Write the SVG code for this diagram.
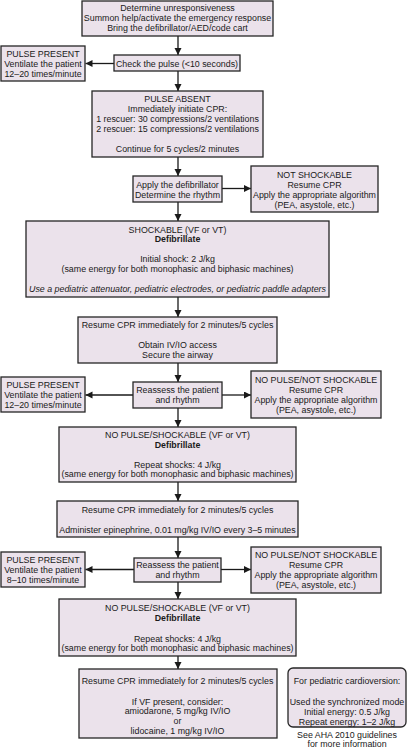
<svg xmlns="http://www.w3.org/2000/svg" width="407" height="750" viewBox="0 0 407 750">
<style>
.b{fill:#ebe2eb;stroke:#262626;stroke-width:1.3}
text{font-family:"Liberation Sans",Arial,sans-serif;font-size:8.85px;fill:#1a1a1a;text-anchor:middle}
.bd{font-weight:bold}
.it{font-style:italic}
.c line{stroke:#1a1a1a;stroke-width:1.3;marker-end:url(#ah)}
</style>
<defs>
<marker id="ah" markerUnits="userSpaceOnUse" markerWidth="8" markerHeight="8" refX="7" refY="3.5" orient="auto">
<path d="M0,0 L7,3.5 L0,7 z" fill="#1a1a1a"/>
</marker>
</defs>
<rect width="407" height="750" fill="#fff"/>
<g class="c" id="connectors">
<line x1="178" y1="36" x2="178" y2="55"/>
<line x1="114" y1="63.5" x2="85.5" y2="63.5"/>
<line x1="178" y1="71" x2="178" y2="91"/>
<line x1="178" y1="157" x2="178" y2="176"/>
<line x1="222" y1="188.5" x2="251" y2="188.5"/>
<line x1="178" y1="202" x2="178" y2="221"/>
<line x1="178" y1="297" x2="178" y2="317"/>
<line x1="178" y1="363" x2="178" y2="382"/>
<line x1="133" y1="395" x2="85.5" y2="395"/>
<line x1="222" y1="395" x2="251" y2="395"/>
<line x1="178" y1="408" x2="178" y2="427"/>
<line x1="178" y1="482" x2="178" y2="501"/>
<line x1="178" y1="537" x2="178" y2="558"/>
<line x1="134" y1="569.5" x2="85.5" y2="569.5"/>
<line x1="221" y1="569.5" x2="251" y2="569.5"/>
<line x1="178" y1="582" x2="178" y2="599"/>
<line x1="178" y1="656" x2="178" y2="669"/>
</g>
<g id="n1"><rect class="b" x="82" y="1" width="191" height="35"/>
<text x="177.5" y="10.5">Determine unresponsiveness</text>
<text x="177.5" y="21">Summon help/activate the emergency response</text>
<text x="177.5" y="31">Bring the defibrillator/AED/code cart</text></g>
<g id="n2"><rect class="b" x="114" y="55" width="126" height="16"/>
<text x="177" y="66.5">Check the pulse (&lt;10 seconds)</text></g>
<g id="n3"><rect class="b" x="1" y="46" width="84" height="35"/>
<text x="43" y="56.5">PULSE PRESENT</text>
<text x="43" y="66.5">Ventilate the patient</text>
<text x="43" y="76.5">12–20 times/minute</text></g>
<g id="n4"><rect class="b" x="92" y="91" width="171" height="66"/>
<text x="177.5" y="102">PULSE ABSENT</text>
<text x="177.5" y="112">Immediately initiate CPR:</text>
<text x="177.5" y="122">1 rescuer: 30 compressions/2 ventilations</text>
<text x="177.5" y="132">2 rescuer: 15 compressions/2 ventilations</text>
<text x="177.5" y="152">Continue for 5 cycles/2 minutes</text></g>
<g id="n5"><rect class="b" x="133" y="176" width="89" height="26"/>
<text x="177.5" y="187.5">Apply the defibrillator</text>
<text x="177.5" y="197.8">Determine the rhythm</text></g>
<g id="n6"><rect class="b" x="251" y="166" width="127" height="46"/>
<text x="314.5" y="177.5">NOT SHOCKABLE</text>
<text x="314.5" y="187.5">Resume CPR</text>
<text x="314.5" y="197.5">Apply the appropriate algorithm</text>
<text x="314.5" y="207.5">(PEA, asystole, etc.)</text></g>
<g id="n7"><rect class="b" x="26" y="221" width="303" height="76"/>
<text x="177.5" y="232.5">SHOCKABLE (VF or VT)</text>
<text class="bd" x="177.5" y="242.3">Defibrillate</text>
<text x="177.5" y="262">Initial shock: 2 J/kg</text>
<text x="177.5" y="272">(same energy for both monophasic and biphasic machines)</text>
<text class="it" x="177.5" y="292">Use a pediatric attenuator, pediatric electrodes, or pediatric paddle adapters</text></g>
<g id="n8"><rect class="b" x="78" y="317" width="199" height="46"/>
<text x="177.5" y="328">Resume CPR immediately for 2 minutes/5 cycles</text>
<text x="177.5" y="348">Obtain IV/IO access</text>
<text x="177.5" y="358">Secure the airway</text></g>
<g id="n9"><rect class="b" x="133" y="382" width="89" height="26"/>
<text x="177.5" y="393">Reassess the patient</text>
<text x="177.5" y="403">and rhythm</text></g>
<g id="n10"><rect class="b" x="1" y="377" width="84" height="35"/>
<text x="43" y="388">PULSE PRESENT</text>
<text x="43" y="398">Ventilate the patient</text>
<text x="43" y="408">12–20 times/minute</text></g>
<g id="n11"><rect class="b" x="251" y="371" width="130" height="47"/>
<text x="316" y="383">NO PULSE/NOT SHOCKABLE</text>
<text x="316" y="393">Resume CPR</text>
<text x="316" y="403">Apply the appropriate algorithm</text>
<text x="316" y="413">(PEA, asystole, etc.)</text></g>
<g id="n12"><rect class="b" x="59" y="427" width="237" height="55"/>
<text x="177.5" y="438">NO PULSE/SHOCKABLE (VF or VT)</text>
<text class="bd" x="177.5" y="448">Defibrillate</text>
<text x="177.5" y="467.5">Repeat shocks: 4 J/kg</text>
<text x="177.5" y="477">(same energy for both monophasic and biphasic machines)</text></g>
<g id="n13"><rect class="b" x="57" y="501" width="241" height="36"/>
<text x="177.5" y="512.5">Resume CPR immediately for 2 minutes/5 cycles</text>
<text x="177.5" y="532.5">Administer epinephrine, 0.01 mg/kg IV/IO every 3–5 minutes</text></g>
<g id="n14"><rect class="b" x="134" y="558" width="87" height="24"/>
<text x="177.5" y="567.5">Reassess the patient</text>
<text x="177.5" y="577.5">and rhythm</text></g>
<g id="n15"><rect class="b" x="1" y="552" width="84" height="35"/>
<text x="43" y="563">PULSE PRESENT</text>
<text x="43" y="573">Ventilate the patient</text>
<text x="43" y="583">8–10 times/minute</text></g>
<g id="n16"><rect class="b" x="251" y="547" width="130" height="46"/>
<text x="316" y="557.5">NO PULSE/NOT SHOCKABLE</text>
<text x="316" y="567.5">Resume CPR</text>
<text x="316" y="577.5">Apply the appropriate algorithm</text>
<text x="316" y="587.5">(PEA, asystole, etc.)</text></g>
<g id="n17"><rect class="b" x="59" y="599" width="237" height="57"/>
<text x="177.5" y="610.5">NO PULSE/SHOCKABLE (VF or VT)</text>
<text class="bd" x="177.5" y="620.5">Defibrillate</text>
<text x="177.5" y="641.5">Repeat shocks: 4 J/kg</text>
<text x="177.5" y="650.5">(same energy for both monophasic and biphasic machines)</text></g>
<g id="n18"><rect class="b" x="79" y="669" width="198" height="69"/>
<text x="177.5" y="684">Resume CPR immediately for 2 minutes/5 cycles</text>
<text x="177.5" y="705">If VF present, consider:</text>
<text x="177.5" y="714">amiodarone, 5 mg/kg IV/IO</text>
<text x="177.5" y="724">or</text>
<text x="177.5" y="734">lidocaine, 1 mg/kg IV/IO</text></g>
<g id="n19"><rect class="b" x="288" y="668" width="118" height="59" rx="5"/>
<text x="347" y="684">For pediatric cardioversion:</text>
<text x="347" y="705">Used the synchronized mode</text>
<text x="347" y="715">Initial energy: 0.5 J/kg</text>
<text x="347" y="725">Repeat energy: 1–2 J/kg</text></g>
<g id="note">
<text x="347" y="738">See AHA 2010 guidelines</text>
<text x="347" y="747">for more information</text></g>
</svg>
